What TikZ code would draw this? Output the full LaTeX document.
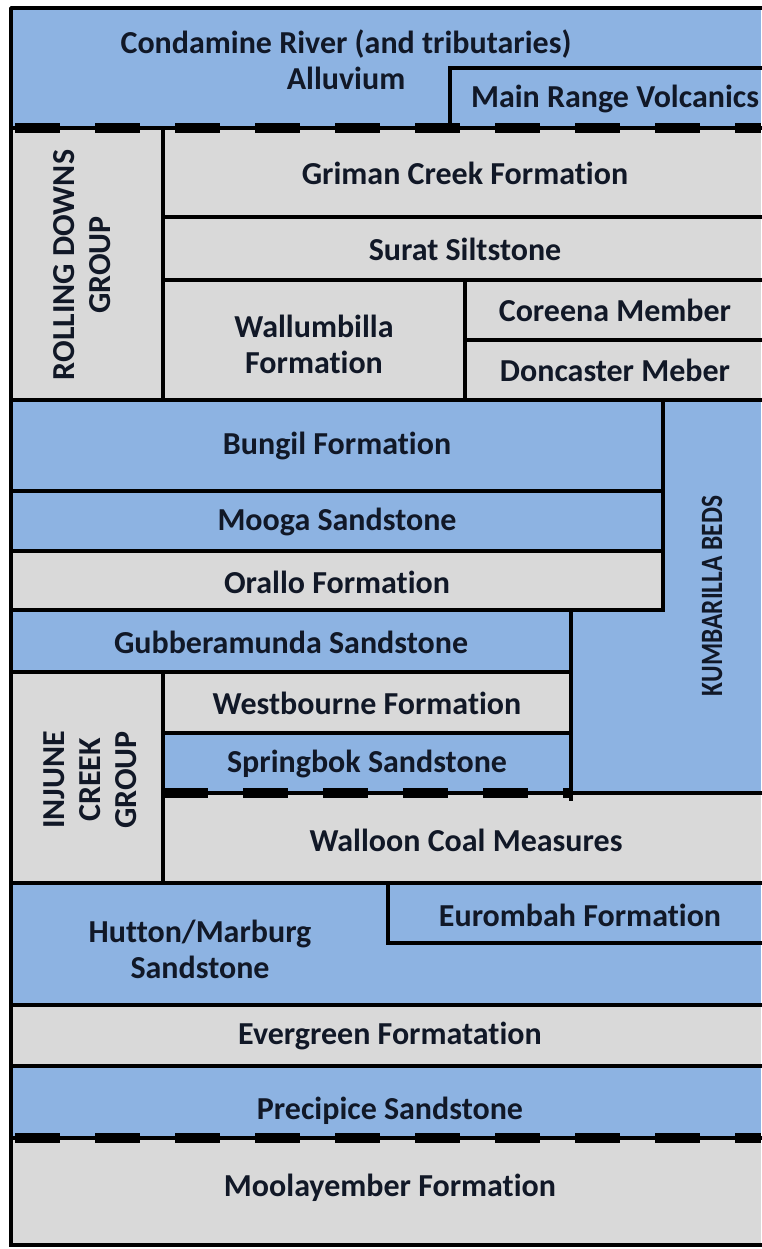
\documentclass[tikz,border=0pt]{standalone}
\usepackage{fontspec}
\setmainfont{Carlito}[RawFeature={-liga;-clig;-dlig;-calt;-rlig}]
\definecolor{layerblue}{HTML}{8DB3E2}
\definecolor{layergrey}{HTML}{D9D9D9}
\definecolor{textcol}{HTML}{111827}
\begin{document}
\begin{tikzpicture}[x=1pt,y=-1pt,
  edge/.style={line width=3.5pt, black, line cap=rect},
  bigdash/.style={line width=10pt, black, dash pattern=on 45pt off 35pt},
  lbl/.style={font=\fontsize{32}{36}\selectfont\bfseries, text=textcol, align=center, inner sep=0pt},
  vlbl/.style={lbl, rotate=90}]
\useasboundingbox (0,0) rectangle (761,1249);
% fills
\fill[layerblue] (11,8) rectangle (761,128);
\fill[layergrey] (11,128) rectangle (761,400);
\fill[layerblue] (11,400) rectangle (761,491);
\fill[layerblue] (11,491) rectangle (663,551);
\fill[layergrey] (11,551) rectangle (663,610);
\fill[layerblue] (663,400) rectangle (761,793);
\fill[layerblue] (571,610) rectangle (761,793);
\fill[layerblue] (11,610) rectangle (571,672);
\fill[layergrey] (11,672) rectangle (571,733);
\fill[layergrey] (11,733) rectangle (163,883);
\fill[layerblue] (163,733) rectangle (571,793);
\fill[layergrey] (163,793) rectangle (761,883);
\fill[layerblue] (11,883) rectangle (761,1005);
\fill[layergrey] (11,1005) rectangle (761,1066);
\fill[layerblue] (11,1066) rectangle (761,1138);
\fill[layergrey] (11,1138) rectangle (761,1245);
% solid lines
\draw[edge, line join=round] (761,8) -- (11,8) -- (11,1245);
\draw[edge, dash pattern=on 122pt off 4pt] (11,1245) -- (761,1245);
\draw[edge] (450,128) -- (450,68) -- (761,68);
\draw[edge] (11,128) -- (761,128);
\draw[edge] (163,128) -- (163,400);
\draw[edge] (163,217) -- (761,217);
\draw[edge] (163,280) -- (761,280);
\draw[edge] (465,280) -- (465,400);
\draw[edge] (465,340) -- (761,340);
\draw[edge] (11,400) -- (761,400);
\draw[edge] (663,400) -- (663,610);
\draw[edge] (11,491) -- (663,491);
\draw[edge] (11,551) -- (663,551);
\draw[edge] (11,610) -- (663,610);
\draw[edge] (571,610) -- (571,799);
\draw[edge] (11,672) -- (571,672);
\draw[edge] (163,672) -- (163,883);
\draw[edge] (163,733) -- (571,733);
\draw[edge] (163,793) -- (761,793);
\draw[edge] (11,883) -- (761,883);
\draw[edge] (388,883) -- (388,943) -- (761,943);
\draw[edge] (11,1005) -- (761,1005);
\draw[edge] (11,1066) -- (761,1066);
\draw[edge] (11,1138) -- (761,1138);
% thick dashes (unconformities)
\draw[bigdash] (15,128) -- (761,128);
\draw[bigdash] (163,793) -- (571,793);
\draw[bigdash] (15,1138) -- (761,1138);
% labels
\node[lbl] (condamine) at (346,60) {Condamine River (and tributaries)\\Alluvium};
\node[lbl] (mainrange) at (615,99) {Main Range Volcanics};
\node[vlbl] (rolling) at (82,265) {ROLLING DOWNS\\GROUP};
\node[lbl] (griman) at (465,173) {Griman Creek Formation};
\node[lbl] (surat) at (465,249) {Surat Siltstone};
\node[lbl] (wallum) at (314,344) {Wallumbilla\\Formation};
\node[lbl] (coreena) at (615,310) {Coreena Member};
\node[lbl] (doncaster) at (615,370) {Doncaster Meber};
\node[lbl] (bungil) at (337,446) {Bungil Formation};
\node[lbl] (mooga) at (337,522) {Mooga Sandstone};
\node[lbl] (orallo) at (337,582) {Orallo Formation};
\node[vlbl, font=\fontsize{31}{36}\selectfont\bfseries] (kumbarilla) at (712,596) {\scalebox{0.82}[1]{KUMBARILLA BEDS}};
\node[lbl] (gubbera) at (291,642) {Gubberamunda Sandstone};
\node[lbl] (westbourne) at (367,703) {Westbourne Formation};
\node[lbl] (springbok) at (367,764) {Springbok Sandstone};
\node[vlbl] (injune) at (90,780) {INJUNE\\CREEK\\GROUP};
\node[lbl] (walloon) at (466,840) {Walloon Coal Measures};
\node[lbl] (eurombah) at (580,915) {Eurombah Formation};
\node[lbl] (hutton) at (200,949) {Hutton/Marburg\\Sandstone};
\node[lbl] (evergreen) at (390,1036) {Evergreen Formatation};
\node[lbl] (precipice) at (390,1111) {Precipice Sandstone};
\node[lbl] (moolay) at (390,1188) {Moolayember Formation};
\end{tikzpicture}
\end{document}
